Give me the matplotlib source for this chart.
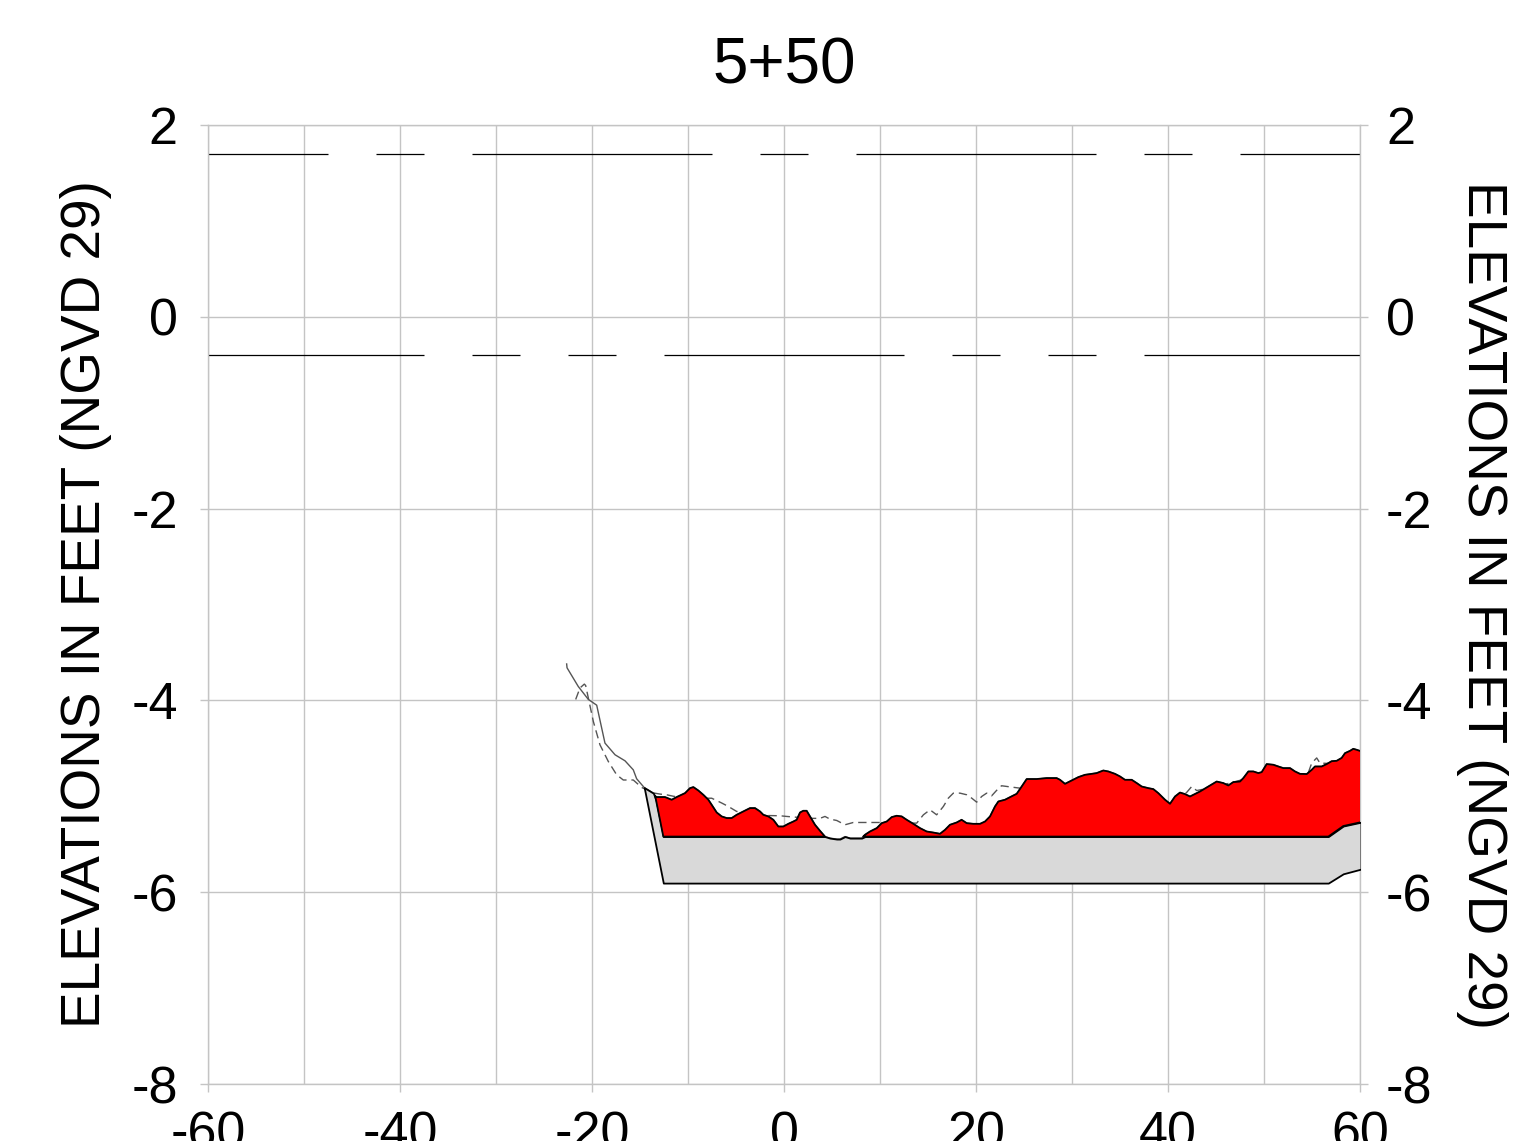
import numpy as np
import matplotlib
matplotlib.use('Agg')
import matplotlib.pyplot as plt

plt.rcParams['font.family'] = ['Liberation Sans', 'DejaVu Sans']
plt.rcParams['axes.unicode_minus'] = False
plt.rcParams['lines.scale_dashes'] = False

# current survey (station offset ft, elevation ft)
survey_x = [-22.64, -22.6, -21.43, -20.38, -19.51, -18.65, -17.6, -16.56, -15.7, -15.35, -14.55,
            -13.61, -13.33, -12.4, -11.7, -11.18, -10.31, -9.79, -9.44, -8.92, -8.4, -7.88, -7.53,
            -7.01, -6.49, -5.97, -5.45, -4.93, -4.24, -3.54, -3.02, -2.5, -2.15, -1.63, -1.11, -0.59,
            -0.07, 0.45, 0.97, 1.32, 1.67, 2.01, 2.36, 2.71, 3.23, 3.75, 4.27, 4.79, 5.49, 5.83, 6.35,
            6.88, 8.09, 8.44, 8.96, 9.66, 10.18, 10.7, 11.22, 11.74, 12.26, 12.78, 13.47, 14.17, 14.86,
            15.55, 16.25, 16.77, 17.29, 17.99, 18.5, 19.03, 19.72, 20.42, 20.94, 21.46, 21.98, 22.33,
            23.02, 23.72, 24.24, 24.76, 25.28, 26.32, 27.36, 28.4, 28.75, 29.27, 29.97, 30.66, 31.35,
            32.05, 32.57, 33.26, 33.78, 34.48, 35.0, 35.52, 36.22, 36.74, 37.26, 37.95, 38.47, 38.99,
            39.69, 40.21, 40.73, 41.25, 41.77, 42.29, 43.33, 44.2, 45.07, 45.76, 46.28, 46.8, 47.5,
            47.85, 48.37, 48.89, 49.41, 49.76, 50.28, 50.97, 51.49, 52.01, 52.71, 53.23, 53.75, 54.45,
            54.97, 55.31, 56.01, 56.53, 57.05, 57.57, 58.09, 58.44, 58.96, 59.3, 59.65, 60.18]
survey_z = [-3.62, -3.66, -3.855, -3.99, -4.05, -4.445, -4.567, -4.63, -4.724, -4.817, -4.91,
            -4.967, -5.008, -5.008, -5.036, -5.008, -4.967, -4.915, -4.904, -4.94, -4.985, -5.036, -5.089,
            -5.169, -5.21, -5.227, -5.227, -5.193, -5.158, -5.123, -5.123, -5.158, -5.193, -5.21, -5.245, -5.315,
            -5.315, -5.287, -5.263, -5.245, -5.169, -5.151, -5.151, -5.21, -5.297, -5.36, -5.42, -5.436, -5.446, -5.446, -5.42,
            -5.436, -5.436, -5.401, -5.367, -5.332, -5.28, -5.263, -5.217, -5.203, -5.21, -5.245, -5.287, -5.332, -5.367,
            -5.378, -5.391, -5.35, -5.297, -5.273, -5.245, -5.28, -5.287, -5.287, -5.263, -5.21, -5.106, -5.054,
            -5.036, -5.0, -4.974, -4.898, -4.82, -4.82, -4.81, -4.81, -4.828, -4.87, -4.835, -4.8, -4.776,
            -4.766, -4.758, -4.731, -4.741, -4.766, -4.793, -4.828, -4.828, -4.862, -4.898, -4.915, -4.925, -4.967,
            -5.036, -5.078, -5.002, -4.961, -4.977, -5.002, -4.95, -4.898, -4.846, -4.862, -4.887, -4.852, -4.846,
            -4.81, -4.741, -4.741, -4.758, -4.748, -4.664, -4.671, -4.689, -4.706, -4.706, -4.741, -4.766, -4.768,
            -4.724, -4.689, -4.689, -4.664, -4.634, -4.63, -4.6, -4.55, -4.526, -4.505, -4.515, -4.533]

# earlier survey (dashed)
prior_x = [-21.7, -21.25, -20.8, -20.66, -20.38, -19.86, -19.17, -18.3, -17.43, -16.74, -15.7, -14.82,
           -13.6, -12.9, -12.2, -11.5, -9.5, -7.53, -6.49, -5.8, -4.93, -3.5, -2.0, -0.42, 0.28, 1.5,
           3.0, 3.75, 4.27, 4.79, 5.49, 6.35, 7.22, 10.0, 13.82, 14.52, 15.21, 15.9, 16.6, 17.12, 17.64,
           18.33, 19.03, 19.55, 20.07, 20.59, 21.11, 21.63, 22.14, 22.66, 23.7, 24.58, 27.0, 30.0, 33.0,
           36.0, 38.5, 40.2, 41.2, 41.94, 42.47, 42.99, 45.0, 48.0, 51.0, 53.5, 54.6, 54.97, 55.49,
           55.83, 57.5, 60.0]
prior_z = [-3.99, -3.87, -3.83, -3.845, -3.976, -4.22, -4.463, -4.637, -4.776, -4.83, -4.83, -4.908,
           -4.965, -4.977, -4.985, -5.0, -5.02, -5.02, -5.07, -5.106, -5.158, -5.17, -5.2, -5.203, -5.21, -5.22,
           -5.23, -5.23, -5.21, -5.238, -5.252, -5.297, -5.273, -5.273, -5.28, -5.193, -5.141, -5.193, -5.106, -5.019, -4.967,
           -4.967, -4.984, -5.019, -5.061, -5.002, -4.967, -4.995, -4.939, -4.89, -4.904, -4.915, -4.87, -4.88, -4.8,
           -4.88, -4.98, -5.1, -5.01, -4.96, -4.898, -4.94, -4.9, -4.82, -4.72, -4.79, -4.758, -4.654, -4.6,
           -4.654, -4.66, -4.58]

# channel template: design grade and allowable overdepth
design_x = [-16.0, -12.57, 56.7, 58.26, 60.1]
design_z = [-3.705, -5.42, -5.42, -5.31, -5.27]
overdepth_x = [-16.0, -12.57, 56.7, 58.26, 60.1]
overdepth_z = [-4.19, -5.905, -5.905, -5.808, -5.759]

# tide levels, drawn dash-dot
tide_levels = [1.7, -0.4]
# dash patterns in feet along the section (on, off, on, off ...), and start offset
tide_dashes = [(25, 5, 5, 5), (25, 5, 5, 5, 5, 5)]
tide_offsets = [12.5, 2.5]

station = '5+50'
ylabel = 'ELEVATIONS IN FEET (NGVD 29)'
yticks = np.arange(-8, 3, 2)

W, H = 1535, 1141
fig = plt.figure(figsize=(W / 100, H / 100), dpi=100)
ax = fig.add_axes([208 / W, 57 / H, 1152 / W, 959 / H])
ax.set_xlim(-60, 60)
ax.set_ylim(-8, 2)

grid_c = '#c4c4c4'
ax.set_axisbelow(True)
ax.set_xticks(np.arange(-60, 61, 20))
ax.set_xticks(np.arange(-60, 61, 10), minor=True)
ax.set_yticks(yticks)
ax.grid(True, which='both', color=grid_c, lw=1.0)
for s in ax.spines.values():
    s.set_color(grid_c)
    s.set_linewidth(1.0)
ax.tick_params(which='major', direction='out', length=5.8, width=1.0, color=grid_c,
               labelsize=37.5)
ax.tick_params(which='minor', length=0)
ax.tick_params(axis='x', pad=13)
ax.tick_params(axis='y', pad=16)

# tide lines with dash patterns expressed in data feet
ax_w_in = fig.get_figwidth() * ax.get_position().width
pt_per_ft = ax_w_in * 72 / 120.0
for lvl, dsh, off in zip(tide_levels, tide_dashes, tide_offsets):
    pattern = tuple(d * pt_per_ft for d in dsh)
    ax.plot([-60, 60], [lvl, lvl], color='black', lw=0.9,
            linestyle=(off * pt_per_ft, pattern), zorder=2)

# surveys
ax.plot(survey_x, survey_z, color='#555555', lw=1.0, zorder=2)
ax.plot(prior_x, prior_z, color='#555555', lw=1.0, linestyle=(0, (6, 3.5)), zorder=2)

# fills
sx = np.array(survey_x)
xg = np.union1d(sx[(sx >= -16.0) & (sx <= 60.1)], design_x)
sg = np.interp(xg, survey_x, survey_z)
dg = np.interp(xg, design_x, design_z)
og = np.interp(xg, overdepth_x, overdepth_z)
top_g = np.minimum(sg, dg)

ax.fill_between(xg, top_g, og, where=top_g >= og, interpolate=True,
                facecolor='#d9d9d9', edgecolor='black', lw=1.3, zorder=3)
ax.fill_between(xg, sg, dg, where=sg >= dg, interpolate=True,
                facecolor='#ff0000', edgecolor='black', lw=1.3, zorder=4)

ax.set_title(station, fontsize=46, pad=30)
ax.set_ylabel(ylabel, fontsize=39.5, labelpad=14)

ax_r = ax.twinx()
ax_r.set_ylim(ax.get_ylim())
ax_r.set_yticks(yticks)
for s in ax_r.spines.values():
    s.set_visible(False)
ax_r.tick_params(axis='y', direction='out', length=5.8, width=1.0, color=grid_c,
                 labelsize=37.5, pad=13)
ax_r.set_ylabel(ylabel, fontsize=39.5, rotation=270, labelpad=17, va='bottom')

fig.savefig('out.png', dpi=100)
